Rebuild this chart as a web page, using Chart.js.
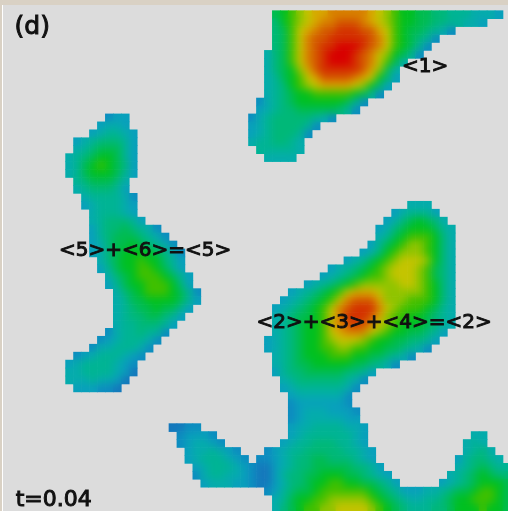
<!DOCTYPE html>
<html>
<head>
<meta charset="utf-8">
<title>(d)</title>
<script src="https://cdn.jsdelivr.net/npm/chart.js@4"></script>
<style>
    html, body { margin: 0; padding: 0; background: #d9d1c4; overflow: hidden; }
    #wrap { position: absolute; left: 2px; top: 5px; width: 505px; height: 506px; border-left: 1px solid #fff; background: #dcdcdc; }
</style>
</head>
<body>
<div id="wrap"><canvas id="fieldChart"></canvas></div>
<script>
// each line: [row, first column, one level (0-f) per cell]
const blobOne = [
    [0, 34, "6789abbcccccba987766554443332"],
    [1, 34, "5789abccdddcba9877665544332"],
    [2, 34, "568abcddeeeddba87665431"],
    [3, 34, "568acddeeeeedca876541"],
    [4, 34, "568acdeefffedca87641"],
    [5, 33, "3568acdefffedca97641"],
    [6, 33, "3568acdefffedca863"],
    [7, 33, "35679bdeeeeedb963"],
    [8, 33, "34678abddddcba752"],
    [9, 33, "345789abbbba9752"],
    [10, 33, "345677888887641"],
    [11, 32, "13456777777641"],
    [12, 32, "2345566666541"],
    [13, 31, "13455555431"],
    [14, 31, "234555541"],
    [15, 31, "23455541"],
    [16, 31, "3445543"],
    [17, 32, "444443"],
    [18, 33, "3333"]
];

const blobLeft = [
    [13, 13, "122"],
    [14, 12, "2332"],
    [15, 11, "234432"],
    [16, 9, "23455542"],
    [17, 9, "34566642"],
    [18, 8, "345677642"],
    [19, 8, "346787652"],
    [20, 8, "346777642"],
    [21, 9, "4566653"],
    [22, 9, "3455542"],
    [23, 10, "3444431"],
    [24, 10, "2344432"],
    [25, 11, "344432"],
    [26, 11, "3455542"],
    [27, 11, "245565431"],
    [28, 11, "2456665431"],
    [29, 11, "23566765431"],
    [30, 11, "235677776531"],
    [31, 12, "35677877542"],
    [32, 12, "24677887642"],
    [33, 13, "35678887642"],
    [34, 13, "24677888752"],
    [35, 14, "35678887641"],
    [36, 14, "34667777642"],
    [37, 14, "3456676642"],
    [38, 14, "345566542"],
    [39, 14, "34455542"],
    [40, 13, "13445441"],
    [41, 12, "12344431"],
    [42, 11, "13344431"],
    [43, 9, "123444321"],
    [44, 8, "234444321"],
    [45, 8, "334444320"],
    [46, 8, "33343320"],
    [47, 9, "222110"]
];

const blobCentre = [
    [24, 51, "333"],
    [25, 49, "234442"],
    [26, 48, "23567653"],
    [27, 47, "2356777643"],
    [28, 47, "3467888753"],
    [29, 46, "24678998753"],
    [30, 45, "235789998753"],
    [31, 43, "2346789aaa9753"],
    [32, 41, "23456789aaa98653"],
    [33, 40, "234567889aaa98653"],
    [34, 38, "234567899999aa98753"],
    [35, 36, "2345678abbba999998753"],
    [36, 35, "2345678acdddb999888753"],
    [37, 34, "2345678acdeeeca98887643"],
    [38, 34, "3456678aceeedb988776543"],
    [39, 34, "3456778bcdedca987776543"],
    [40, 34, "3456778abccca987766542"],
    [41, 33, "234567789aaa9877665542"],
    [42, 33, "234567788998877665431"],
    [43, 34, "345677788877665431"],
    [44, 34, "3456677777665431"],
    [45, 34, "2455666665542"],
    [46, 35, "34555555431"],
    [47, 35, "2344444431"],
    [48, 36, "23333331"],
    [49, 36, "12222221"],
    [50, 36, "123332221"],
    [51, 36, "123333322"],
    [52, 36, "2334444332"],
    [53, 36, "2344444432"],
    [54, 35, "23445554432"],
    [55, 33, "12344555554432"],
    [56, 32, "112345566555432"],
    [57, 24, "234443210023455666665542"],
    [58, 24, "1344332100245566777665432"],
    [59, 25, "2333221002355677887766542"],
    [60, 33, "1245667888888765422233456678876"],
    [61, 34, "346778899999876543344567788876"],
    [62, 34, "35678899aaaa987654445567778776"]
];

const blobTriangle = [
    [52, 21, "0011"],
    [53, 22, "12221"],
    [54, 22, "123321"],
    [55, 23, "2334321"],
    [56, 23, "23444321"]
];

const blobRight = [
    [53, 59, "33"],
    [54, 58, "343"],
    [55, 58, "3453"],
    [56, 57, "245543"],
    [57, 57, "3456544"],
    [58, 56, "34567655"],
    [59, 55, "234567776"]
];

const levelColors = [
    '#1478bc', '#0c8cc0', '#08a0bc', '#04acac',
    '#00b494', '#00b878', '#00bc50', '#00c020',
    '#40c000', '#90c400', '#c4c400', '#d8a800',
    '#d88000', '#d45800', '#d43000', '#d80000'
];

const noteTexts = ['(d)', '<1>', '<5>+<6>=<5>', '<2>+<3>+<4>=<2>', 't=0.04'];
const noteCols = [3.8, 53.2, 18, 46.8, 6.5];
const noteRows = [2.15, 7.05, 30.25, 39.25, 61.6];
const noteFonts = ['25px "DejaVu Sans"', '20px "DejaVu Sans"', '20px "DejaVu Sans"', '20px "DejaVu Sans"', '22px "DejaVu Sans"'];

function blobDataset(blob) {
    const points = [];
    const colors = [];
    blob.forEach(function (line) {
        for (let i = 0; i < line[2].length; i++) {
            points.push({ x: line[1] + i + 0.5, y: line[0] + 0.5 });
            colors.push(levelColors[parseInt(line[2][i], 16)]);
        }
    });
    return {
        data: points,
        pointStyle: 'rect',
        pointRadius: 6.1,
        pointBorderWidth: 0,
        pointBackgroundColor: colors,
        showLine: false
    };
}

// softens the level steps inside the blobs, the stair edges stay sharp
const softenCells = {
    id: 'softenCells',
    afterDatasetsDraw: function (chart) {
        const ctx = chart.ctx;
        const copy = document.createElement('canvas');
        copy.width = chart.canvas.width;
        copy.height = chart.canvas.height;
        copy.getContext('2d').drawImage(chart.canvas, 0, 0);
        ctx.save();
        ctx.setTransform(1, 0, 0, 1, 0, 0);
        ctx.globalCompositeOperation = 'source-atop';
        ctx.filter = 'blur(4px)';
        ctx.drawImage(copy, 0, 0);
        ctx.restore();
    }
};

// the black notes on top of the field
const fieldNotes = {
    id: 'fieldNotes',
    afterDraw: function (chart) {
        const ctx = chart.ctx;
        ctx.save();
        ctx.fillStyle = '#111';
        ctx.strokeStyle = '#111';
        ctx.lineWidth = 1;
        ctx.textAlign = 'center';
        ctx.textBaseline = 'middle';
        noteTexts.forEach(function (text, i) {
            const x = chart.scales.x.getPixelForValue(noteCols[i]);
            const y = chart.scales.y.getPixelForValue(noteRows[i]);
            ctx.font = noteFonts[i];
            ctx.fillText(text, x, y);
            ctx.strokeText(text, x, y);
        });
        ctx.restore();
    }
};

new Chart(document.getElementById('fieldChart').getContext('2d'), {
    type: 'scatter',
    data: {
        datasets: [blobOne, blobLeft, blobCentre, blobTriangle, blobRight].map(blobDataset)
    },
    options: {
        responsive: true,
        maintainAspectRatio: false,
        animation: false,
        layout: { padding: 0, autoPadding: false },
        plugins: {
            legend: { display: false },
            tooltip: { enabled: false }
        },
        scales: {
            x: { type: 'linear', display: false, min: 0.126, max: 63.63 },
            y: { type: 'linear', display: false, reverse: true, min: -0.718, max: 63 }
        }
    },
    plugins: [softenCells, fieldNotes]
});
</script>
</body>
</html>
